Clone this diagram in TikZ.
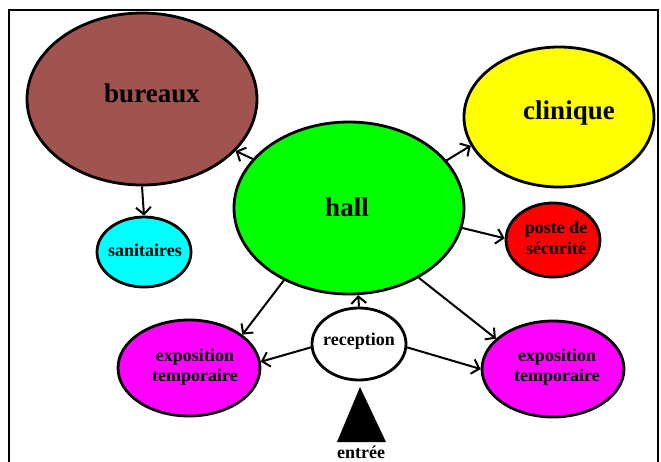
\documentclass[tikz,border=0pt]{standalone}
\usepackage{fontspec}
\setmainfont{Liberation Serif}
\usetikzlibrary{shapes.geometric,arrows.meta}
\definecolor{brownb}{RGB}{161,83,80}
\definecolor{yel}{RGB}{255,255,0}
\definecolor{grn}{RGB}{0,255,0}
\definecolor{cyn}{RGB}{0,255,255}
\definecolor{rd}{RGB}{255,0,0}
\definecolor{mag}{RGB}{255,0,255}
\tikzset{
  room/.style={ellipse, draw=black, line width=2.8pt, inner sep=0pt},
  small/.style={font=\bfseries\fontsize{18}{20}\selectfont, align=center},
  big/.style={font=\bfseries\fontsize{27}{30}\selectfont},
  link/.style={line width=2pt, -{Straight Barb[length=7pt,width=15pt,line width=2pt]}}
}
\begin{document}
\begin{tikzpicture}[x=1pt,y=-1pt]
\useasboundingbox (0,0) rectangle (661,461);
\fill[white] (0,0) rectangle (661,461);
\draw[line width=1.4pt] (9,475) -- (9,10) -- (658,10) -- (658,475);
\node[room, fill=brownb, minimum width=230pt, minimum height=172pt] (bur) at (142,99) {};
\node[big] (burt) at (152,93) {bureaux};
\node[room, fill=yel, minimum width=190pt, minimum height=140pt] (cli) at (559,117) {};
\node[big] (clit) at (569,113) {clinique};
\node[room, fill=grn, minimum width=230pt, minimum height=172pt] (hall) at (349,208) {};
\node[big] (hallt) at (347,207) {hall};
\node[room, fill=cyn, minimum width=94pt, minimum height=70pt] (san) at (144,252) {};
\node[small] (sant) at (145,250) {sanitaires};
\node[room, fill=rd, minimum width=94pt, minimum height=74pt] (pos) at (553,240) {};
\node[small, font=\bfseries\fontsize{18}{21}\selectfont] (post) at (556,238) {poste de\\sécurité};
\node[room, fill=mag, minimum width=142pt, minimum height=96pt] (expl) at (189,368) {};
\node[small] (explt) at (195,367) {exposition\\temporaire};
\node[room, fill=mag, minimum width=142pt, minimum height=96pt] (expr) at (553,369) {};
\node[small] (exprt) at (557,367) {exposition\\temporaire};
\node[room, fill=white, minimum width=94pt, minimum height=72pt] (rec) at (359,344) {};
\node[small] (rect) at (359,341) {reception};
\fill (337,442) -- (360,387) -- (386,442) -- cycle;
\node[small] (ent) at (361,452) {entrée};
\draw[link] (hall.153) -- (bur.331);
\draw[link] (hall.26) -- (cli.198);
\draw[link] (hall.350) -- (pos.178);
\draw[link] (bur.south) -- (san.north);
\draw[link] (hall.228) -- (expl.32);
\draw[link] (hall.315) -- (expr.152);
\draw[link] (rec.north) -- (hall.276);
\draw[link] (rec.184) -- (expl.5);
\draw[link] (rec.356) -- (expr.180);
\end{tikzpicture}
\end{document}
